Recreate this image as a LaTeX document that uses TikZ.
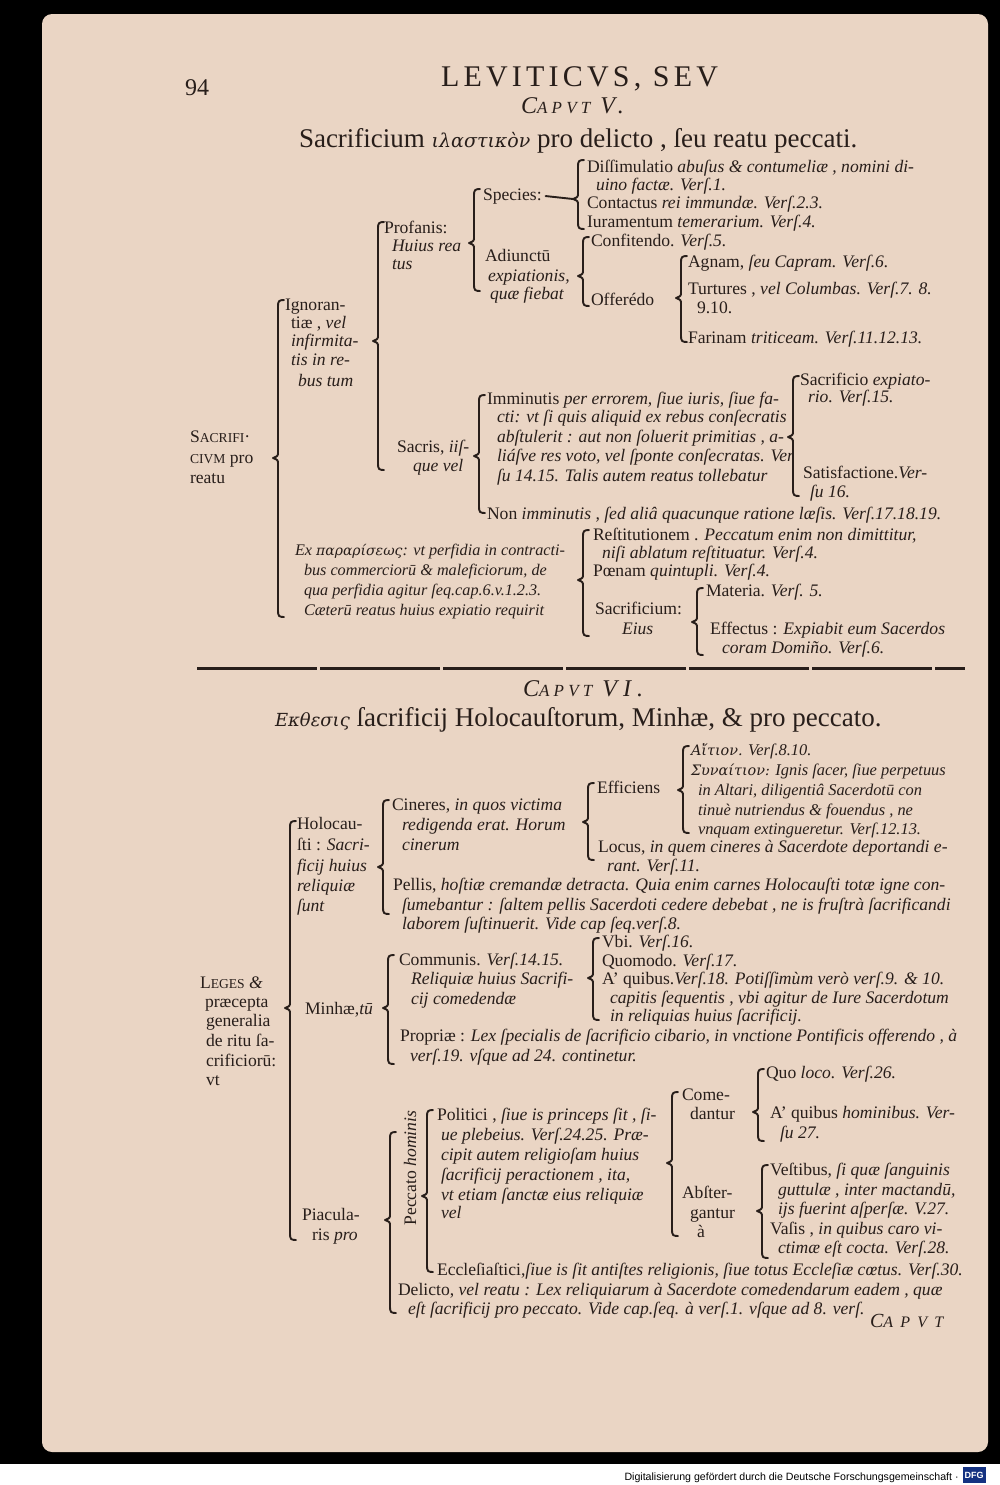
\documentclass[tikz,border=0pt]{standalone}
\usepackage{fontspec}
\setmainfont{Liberation Serif}
\newfontfamily\grk{DejaVu Serif}
\newfontfamily\footsans{Liberation Sans}
\definecolor{paper}{RGB}{234,213,196}
\definecolor{ink}{RGB}{40,30,26}
\definecolor{dfgblue}{RGB}{20,50,130}
\newcommand\fs[1]{\fontsize{#1}{#1}\selectfont}
\newcommand\I[1]{\textit{#1}}
\newcommand\tln[4]{\node[tx] (#1) at (#2,#3+5) {#4};}
\newcommand\bracepath[4]{\draw[br] (#1+6,#2) .. controls (#1+1,#2) and (#1,#2+1) .. (#1,#2+6) -- (#1,#3-6) .. controls (#1,#3-2) .. (#1-5,#3) .. controls (#1,#3+2) .. (#1,#3+6) -- (#1,#4-6) .. controls (#1,#4-1) and (#1+1,#4) .. (#1+6,#4);}
\begin{document}
\begin{tikzpicture}[x=0.5pt,y=-0.5pt,
  tx/.style={anchor=base west, inner sep=0pt, outer sep=0pt, text=ink, font=\fs{8.8}},
  sm/.style={font=\fs{8.2}},
  br/.style={draw=ink, line width=0.95pt, line cap=round, line join=round}]
\useasboundingbox (0,0) rectangle (1000,1485);
\fill[black] (0,0) rectangle (1000,1464);
\fill[white] (0,1464) rectangle (1000,1485);
\fill[paper, rounded corners=5] (42,14) rectangle (988,1452);
% footer
\node[anchor=base east, inner sep=0pt, font=\footsans\fs{5.3}, text=black] (foot) at (959,1480) {Digitalisierung gefördert durch die Deutsche Forschungsgemeinschaft ·};
\node[fill=dfgblue, text=white, inner sep=1pt, minimum width=11pt, minimum height=8pt, font=\footsans\bfseries\fs{4.5}] (dfg) at (974,1475) {DFG};
% header
\node[tx, font=\fs{12}] (pnum) at (185,95) {94};
\node[tx, font=\fs{15}\addfontfeature{LetterSpace=14}] (hdr) at (441,86) {LEVITICVS, SEV};
\node[tx, font=\itshape\fs{12}\addfontfeature{LetterSpace=25}] (cap5) at (521,113) {C{\fs{8.5}APVT}\hspace{5pt}V.};
\node[tx, font=\fs{13.5}] (title1) at (299,147) {Sacrificium {\grk\itshape\fs{9.5}ιλαστικὸν} pro delicto , ſeu reatu peccati.};
% ---- Caput V tree ----
\tln{s1}{587}{167}{Diſſimulatio \I{abuſus \& contumeliæ , nomini di-}}
\tln{s2}{596}{185}{\I{uino factæ. Verſ.1.}}
\tln{s3}{587}{203}{Contactus \I{rei immundæ. Verſ.2.3.}}
\tln{s4}{587}{222}{Iuramentum \I{temerarium. Verſ.4.}}
\tln{spec}{483}{195}{Species:}
\coordinate (cS) at (573,199);
\draw[br] (spec.east) ++(2pt,0) -- (cS);
\bracepath{578}{160}{199}{229}
\tln{adj1}{485}{256}{Adiunctū}
\tln{adj2}{488}{276}{\I{expiationis,}}
\tln{adj3}{490}{294}{\I{quæ fiebat}}
\bracepath{583}{237}{276}{306}
\tln{c1}{591}{241}{Confitendo. \I{Verſ.5.}}
\tln{off}{591}{300}{Offerédo}
\bracepath{681}{256}{298}{342}
\tln{a1}{688}{262}{Agnam, \I{ſeu Capram. Verſ.6.}}
\tln{a2}{688}{289}{Turtures , \I{vel Columbas. Verſ.7. 8.}}
\tln{a3}{697}{308}{9.10.}
\tln{a4}{688}{338}{Farinam \I{triticeam. Verſ.11.12.13.}}
\bracepath{474}{189}{243}{291}
\tln{prof1}{384}{228}{Profanis:}
\tln{prof2}{392}{246}{\I{Huius rea}}
\tln{prof3}{392}{264}{\I{tus}}
\bracepath{378}{222}{341}{470}
\tln{ig1}{285}{305}{Ignoran-}
\tln{ig2}{291}{323}{tiæ , \I{vel}}
\tln{ig3}{291}{341}{\I{infirmita-}}
\tln{ig4}{291}{360}{\I{tis in re-}}
\tln{ig5}{298}{381}{\I{bus tum}}
\tln{sac1}{397}{447}{Sacris, \I{iiſ-}}
\tln{sac2}{413}{466}{\I{que vel}}
\bracepath{479}{395}{456}{513}
\tln{im1}{487}{399}{Imminutis \I{per errorem, ſiue iuris, ſiue fa-}}
\tln{im2}{497}{417}{\I{cti: vt ſi quis aliquid ex rebus conſecratis}}
\tln{im3}{497}{437}{\I{abſtulerit : aut non ſoluerit primitias , a-}}
\tln{im4}{497}{456}{\I{liáſve res voto, vel ſponte conſecratas. Ver}}
\tln{im5}{497}{476}{\I{ſu 14.15. Talis autem reatus tollebatur}}
\tln{non}{487}{514}{Non \I{imminutis , ſed aliâ quacunque ratione læſis. Verſ.17.18.19.}}
\bracepath{793}{376}{437}{496}
\tln{t1}{800}{380}{Sacrificio \I{expiato-}}
\tln{t2}{808}{397}{\I{rio. Verſ.15.}}
\tln{t3}{803}{473}{Satisfactione.\I{Ver-}}
\tln{t4}{810}{492}{\I{ſu 16.}}
\tln{sr1}{190}{437}{S{\fs{6.8}ACRIFI}·}
\tln{sr2}{190}{458}{{\fs{6.8}CIVM} pro}
\tln{sr3}{190}{478}{reatu}
\bracepath{278}{300}{458}{617}
\node[tx,font=\fs{8.1}] (ex1) at (295,555) {\I{Ex {\grk\fs{7}παραρίσεως}: vt perfidia in contracti-}};
\node[tx,font=\fs{8.1}] (ex2) at (304,575) {\I{bus commerciorū \& maleficiorum, de}};
\node[tx,font=\fs{8.1}] (ex3) at (304,595) {\I{qua perfidia agitur ſeq.cap.6.v.1.2.3.}};
\node[tx,font=\fs{8.1}] (ex4) at (304,615) {\I{Cæterū reatus huius expiatio requirit}};
\bracepath{583}{530}{580}{636}
\tln{r1}{593}{535}{Reſtitutionem . \I{Peccatum enim non dimittitur,}}
\tln{r2}{602}{553}{\I{niſi ablatum reſtituatur. Verſ.4.}}
\tln{r3}{593}{571}{Pœnam \I{quintupli. Verſ.4.}}
\tln{sc1}{595}{609}{Sacrificium:}
\tln{sc2}{622}{629}{\I{Eius}}
\bracepath{697}{588}{622}{655}
\tln{m1}{706}{591}{Materia. \I{Verſ. 5.}}
\tln{m2}{710}{629}{Effectus : \I{Expiabit eum Sacerdos}}
\tln{m3}{722}{648}{\I{coram Domiño. Verſ.6.}}
% rule
\coordinate (ruleL) at (197,668);
\coordinate (ruleR) at (965,668);
\draw[ink, line width=1.5pt, dash pattern=on 60pt off 1.5pt] (ruleL) -- (ruleR);
% ---- Caput VI ----
\node[tx, font=\itshape\fs{12}\addfontfeature{LetterSpace=25}] (cap6) at (523,696) {C{\fs{8.5}APVT}\hspace{5pt}VI.};
\node[tx, font=\fs{13.5}] (title2) at (275,726) {{\grk\itshape\fs{9}Εκθεσις} ſacrificij Holocauſtorum, Minhæ, \& pro peccato.};
\tln{ef}{597}{788}{Efficiens}
\bracepath{683}{746}{790}{833}
\node[tx,sm] (e1) at (691,755) {{\grk\itshape\fs{7.2}Αἴτιον.} \I{Verſ.8.10.}};
\node[tx,sm] (e2) at (691,775) {{\grk\itshape\fs{7.2}Συναίτιον:} \I{Ignis ſacer, ſiue perpetuus}};
\node[tx,sm] (e3) at (698,795) {\I{in Altari, diligentiâ Sacerdotū con}};
\node[tx,sm] (e4) at (698,815) {\I{tinuè nutriendus \& fouendus , ne}};
\node[tx,sm] (e5) at (698,834) {\I{vnquam extingueretur. Verſ.12.13.}};
\bracepath{588}{783}{822}{860}
\tln{lo1}{598}{847}{Locus, \I{in quem cineres à Sacerdote deportandi e-}}
\tln{lo2}{607}{866}{\I{rant. Verſ.11.}}
\tln{ci1}{392}{805}{Cineres, \I{in quos victima}}
\tln{ci2}{402}{825}{\I{redigenda erat. Horum}}
\tln{ci3}{402}{845}{\I{cinerum}}
\bracepath{383}{800}{867}{914}
\tln{pe1}{393}{885}{Pellis, \I{hoſtiæ cremandæ detracta. Quia enim carnes Holocauſti totæ igne con-}}
\tln{pe2}{402}{905}{\I{ſumebantur : ſaltem pellis Sacerdoti cedere debebat , ne is fruſtrà ſacrificandi}}
\tln{pe3}{402}{924}{\I{laborem ſuſtinuerit. Vide cap ſeq.verſ.8.}}
\tln{ho1}{297}{824}{Holocau-}
\tln{ho2}{297}{845}{ſti : \I{Sacri-}}
\tln{ho3}{297}{866}{\I{ficij huius}}
\tln{ho4}{297}{886}{\I{reliquiæ}}
\tln{ho5}{297}{906}{\I{ſunt}}
\bracepath{290}{821}{1008}{1240}
\tln{lg1}{200}{983}{L{\fs{6.8}EGES} \I{\&}}
\tln{lg2}{205}{1002}{præcepta}
\tln{lg3}{206}{1021}{generalia}
\tln{lg4}{206}{1041}{de ritu ſa-}
\tln{lg5}{206}{1061}{crificiorū:}
\tln{lg6}{206}{1080}{vt}
\tln{mi}{305}{1009}{Minhæ,\I{tū}}
\bracepath{388}{955}{1008}{1064}
\tln{co1}{399}{960}{Communis. \I{Verſ.14.15.}}
\tln{co2}{411}{979}{\I{Reliquiæ huius Sacrifi-}}
\tln{co3}{411}{999}{\I{cij comedendæ}}
\tln{pr1}{400}{1036}{Propriæ : \I{Lex ſpecialis de ſacrificio cibario, in vnctione Pontificis offerendo , à}}
\tln{pr2}{410}{1056}{\I{verſ.19. vſque ad 24. continetur.}}
\bracepath{593}{938}{978}{1020}
\tln{v1}{602}{942}{Vbi. \I{Verſ.16.}}
\tln{v2}{602}{961}{Quomodo. \I{Verſ.17.}}
\tln{v3}{602}{979}{A’ quibus.\I{Verſ.18. Potiſſimùm verò verſ.9. \& 10.}}
\tln{v4}{610}{998}{\I{capitis ſequentis , vbi agitur de Iure Sacerdotum}}
\tln{v5}{610}{1016}{\I{in reliquias huius ſacrificij.}}
\tln{pi1}{302}{1215}{Piacula-}
\tln{pi2}{312}{1235}{ris \I{pro}}
\bracepath{390}{1132}{1220}{1313}
\node[inner sep=0pt, text=ink, font=\fs{8.8}, rotate=90] (ph) at (410,1168) {Peccato \I{hominis}};
\bracepath{427}{1110}{1196}{1272}
\tln{po1}{437}{1115}{Politici , \I{ſiue is princeps ſit , ſi-}}
\tln{po2}{441}{1135}{\I{ue plebeius. Verſ.24.25. Præ-}}
\tln{po3}{441}{1155}{\I{cipit autem religioſam huius}}
\tln{po4}{441}{1175}{\I{ſacrificij peractionem , ita,}}
\tln{po5}{441}{1195}{\I{vt etiam ſanctæ eius reliquiæ}}
\tln{po6}{441}{1213}{\I{vel}}
\tln{ec}{437}{1270}{Eccleſiaſtici,\I{ſiue is ſit antiſtes religionis, ſiue totus Eccleſiæ cœtus. Verſ.30.}}
\tln{de1}{398}{1290}{Delicto, \I{vel reatu : Lex reliquiarum à Sacerdote comedendarum eadem , quæ}}
\tln{de2}{408}{1309}{\I{eſt ſacrificij pro peccato. Vide cap.ſeq. à verſ.1. vſque ad 8. verſ.}}
\bracepath{672}{1092}{1163}{1236}
\tln{cm1}{682}{1095}{Come-}
\tln{cm2}{690}{1114}{dantur}
\tln{ab1}{682}{1193}{Abſter-}
\tln{ab2}{690}{1213}{gantur}
\tln{ab3}{697}{1232}{à}
\bracepath{758}{1069}{1112}{1141}
\tln{q1}{766}{1073}{Quo \I{loco. Verſ.26.}}
\tln{q2}{770}{1113}{A’ quibus \I{hominibus. Ver-}}
\tln{q3}{780}{1133}{\I{ſu 27.}}
\bracepath{762}{1165}{1211}{1258}
\tln{vs1}{770}{1170}{Veſtibus, \I{ſi quæ ſanguinis}}
\tln{vs2}{778}{1190}{\I{guttulæ , inter mactandū,}}
\tln{vs3}{778}{1209}{\I{ijs fuerint aſperſæ. V.27.}}
\tln{va1}{770}{1229}{Vaſis , \I{in quibus caro vi-}}
\tln{va2}{778}{1248}{\I{ctimæ eſt cocta. Verſ.28.}}
\node[tx, font=\itshape\fs{10}\addfontfeature{LetterSpace=45}] (catch) at (870,1327) {C{\fs{8}APVT}};
\end{tikzpicture}
\end{document}
